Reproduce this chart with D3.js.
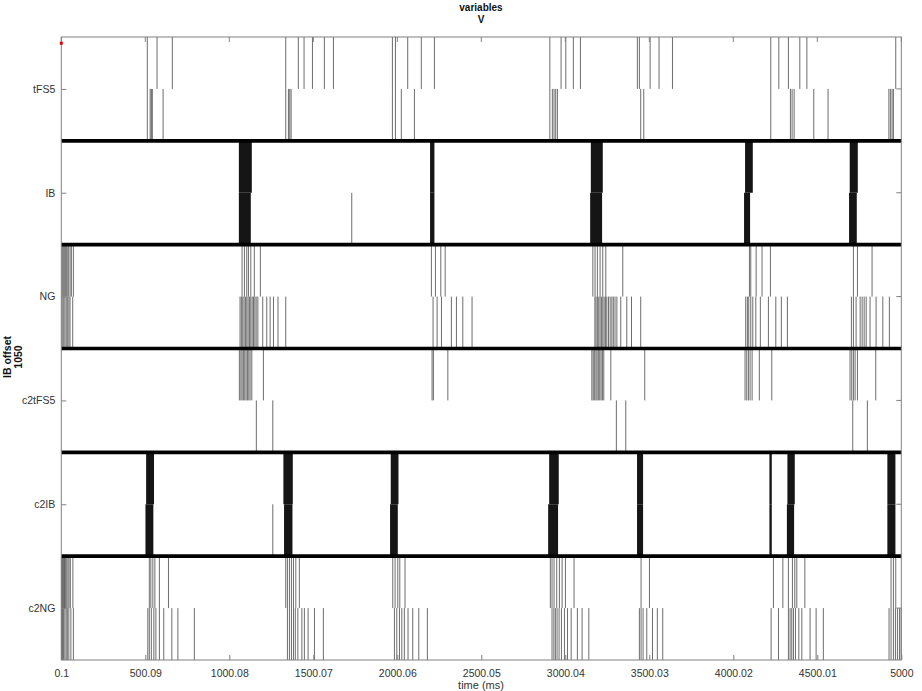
<!DOCTYPE html>
<html><head><meta charset="utf-8">
<script src="https://cdn.jsdelivr.net/npm/d3@7"></script>
<style>body{margin:0;background:#fff}svg{display:block}</style>
</head><body>
<svg id="c" width="922" height="691"></svg>
<script>
// ---------- data (times in ms) ----------
const rowLabels = ["tFS5","IB","NG","c2tFS5","c2IB","c2NG"];
const xTickValues = [0.1,500.09,1000.08,1500.07,2000.06,2500.05,3000.04,3500.03,4000.02,4500.01,5000];
const xTickLabels = ["0.1","500.09","1000.08","1500.07","2000.06","2500.05","3000.04","3500.03","4000.02","4500.01","5000"];

const tFS5Upper = [512,570,661,1336,1411,1445,1495,1566,1620,1971,1989,2062,2143,2221,2908,2975,3003,3048,3090,3429,3441,3505,3558,3638,4223,4271,4328,4396,4438,4967];
const tFS5Lower = [512,529,536,542,606,1336,1352,1360,1368,1971,1989,2024,2102,2908,2923,2933,2943,2953,3449,3467,4223,4340,4350,4362,4479,4564,4926,4935,4945,4953];

const IBUpperBursts = [[1057,1134],[2195,2221],[3152,3223],[4070,4116],[4693,4741]];
const IBLowerBursts = [[1057,1128],[2195,2221],[3148,3219],[4064,4100],[4689,4735]];
const IBLower = [1729];

const NGUpper = [5,11,17,23,29,35,42,52,60,72,1076,1090,1104,1114,1128,1149,1185,2203,2227,2259,2285,3164,3177,3191,3207,3223,3241,3342,4096,4104,4136,4171,4221,4715,4739,4826];
const NGLower = [5,12,21,29,36,45,52,68,1064,1072,1080,1088,1096,1104,1112,1120,1128,1136,1144,1152,1160,1170,1199,1223,1243,1263,1290,1336,2213,2237,2263,2322,2352,2390,2445,3176,3183,3191,3199,3207,3215,3223,3231,3239,3247,3257,3267,3277,3286,3296,3307,3330,3366,3394,3449,4074,4084,4092,4104,4116,4134,4161,4209,4253,4286,4322,4703,4715,4731,4755,4767,4779,4791,4814,4850,4890,4929];

const c2tFS5Upper = [1060,1069,1076,1084,1092,1100,1108,1116,1124,1134,1203,2207,2215,2301,3158,3166,3173,3182,3189,3197,3205,3213,3221,3229,3271,3473,4070,4080,4090,4100,4112,4155,4229,4695,4705,4715,4725,4739,4848];
const c2tFS5Lower = [1161,1259,3304,3360,4711,4798];

const c2IBUpperBursts = [[505,552],[1322,1378],[1961,2007],[2904,2961],[3427,3463],[4215,4229],[4322,4366],[4917,4965]];
const c2IBLowerBursts = [[501,548],[1326,1376],[1957,2003],[2898,2957],[3427,3463],[4215,4229],[4319,4362],[4917,4965]];
const c2IBLower = [1259];

const c2NGUpper = [1,7,13,19,24,30,39,46,54,69,524,533,545,557,584,638,1336,1346,1358,1370,1382,1396,1417,1973,1987,2003,2015,2046,2911,2921,2933,2949,2965,2981,3001,3052,3451,3501,4239,4295,4328,4352,4366,4378,4426,4939,4953,4967];
const c2NGLower = [1,7,13,21,29,36,45,57,72,515,524,536,551,563,584,610,658,694,792,1346,1358,1370,1382,1393,1408,1432,1447,1469,1507,1560,1983,1997,2013,2027,2042,2064,2092,2128,2179,2921,2932,2941,2951,2963,2977,2995,3013,3035,3072,3100,3140,3441,3451,3463,3485,3519,3548,3580,4225,4269,4328,4338,4348,4358,4370,4390,4408,4457,4493,4536,4927,4939,4953,4965,4977,4989,4999];

const redMarker = [{t:0.1, y:0.06}];

// ---------- assemble ----------
const spikeSets = [
  {row:0, half:0, times:tFS5Upper},{row:0, half:1, times:tFS5Lower},
  {row:1, half:1, times:IBLower},
  {row:2, half:0, times:NGUpper},{row:2, half:1, times:NGLower},
  {row:3, half:0, times:c2tFS5Upper},{row:3, half:1, times:c2tFS5Lower},
  {row:4, half:1, times:c2IBLower},
  {row:5, half:0, times:c2NGUpper},{row:5, half:1, times:c2NGLower}
];
const burstSets = [
  {row:1, half:0, b:IBUpperBursts},{row:1, half:1, b:IBLowerBursts},
  {row:4, half:0, b:c2IBUpperBursts},{row:4, half:1, b:c2IBLowerBursts}
];

const svg = d3.select("#c");
const font = "'Liberation Sans', Arial, Helvetica, sans-serif";
const L=61.3, R=901.3, T=37, B=660;
const x = d3.scaleLinear().domain([0.1,5000]).range([L,R]);
const y = d3.scaleLinear().domain([0,rowLabels.length]).range([T,B]);

// spikes
const spikes = [];
spikeSets.forEach(s=>s.times.forEach(t=>spikes.push({t,row:s.row,half:s.half})));
svg.append("g").selectAll("line").data(spikes).join("line")
  .attr("x1",d=>x(d.t)).attr("x2",d=>x(d.t))
  .attr("y1",d=>y(d.row+d.half*0.5)).attr("y2",d=>y(d.row+d.half*0.5+0.5))
  .attr("stroke","#1e1e1e").attr("stroke-width",0.65);

// bursts
const bursts = [];
burstSets.forEach(s=>s.b.forEach(b=>bursts.push({s:b[0],e:b[1],row:s.row,half:s.half})));
svg.append("g").selectAll("rect").data(bursts).join("rect")
  .attr("x",d=>x(d.s)).attr("width",d=>Math.max(1.5,x(d.e)-x(d.s)))
  .attr("y",d=>y(d.row+d.half*0.5)).attr("height",d=>y(0.5)-y(0))
  .attr("fill","#151515");

// thick separators
svg.append("g").selectAll("line").data(d3.range(1,rowLabels.length)).join("line")
  .attr("x1",L).attr("x2",R).attr("y1",d=>y(d)).attr("y2",d=>y(d))
  .attr("stroke","#000").attr("stroke-width",3.6);

// box
svg.append("rect").attr("x",L).attr("y",T).attr("width",R-L).attr("height",B-T)
  .attr("fill","none").attr("stroke","#808080").attr("stroke-width",1);

// x axis bottom
const xb = svg.append("g").attr("transform",`translate(0,${B})`)
  .call(d3.axisBottom(x).tickValues(xTickValues).tickFormat((d,i)=>xTickLabels[i]).tickSizeInner(-5).tickSizeOuter(0).tickPadding(10));
xb.select(".domain").remove();
xb.selectAll("line").attr("stroke","#808080");
xb.selectAll("text").attr("font-family",font).attr("font-size",10.5).attr("fill","#333");
// top ticks
svg.append("g").selectAll("line").data(xTickValues).join("line")
  .attr("x1",d=>x(d)).attr("x2",d=>x(d)).attr("y1",T).attr("y2",T+5).attr("stroke","#808080");

// y axis
const yl = svg.append("g").attr("transform",`translate(${L},0)`)
  .call(d3.axisLeft(y).tickValues(rowLabels.map((_,i)=>i+0.5)).tickFormat((d,i)=>rowLabels[i]).tickSizeInner(-5).tickSizeOuter(0).tickPadding(6));
yl.select(".domain").remove();
yl.selectAll("line").attr("stroke","#808080");
yl.selectAll("text").attr("font-family",font).attr("font-size",10.5).attr("fill","#333");
svg.append("g").selectAll("line").data(rowLabels.map((_,i)=>i+0.5)).join("line")
  .attr("x1",R-5).attr("x2",R).attr("y1",d=>y(d)).attr("y2",d=>y(d)).attr("stroke","#808080");

// red marker
svg.append("g").selectAll("rect").data(redMarker).join("rect")
  .attr("x",d=>x(d.t)-1.5).attr("y",d=>y(d.y)-1.5).attr("width",3).attr("height",3).attr("fill","#e00000");

// title
svg.append("text").attr("x",481).attr("y",11).attr("text-anchor","middle").attr("font-family",font)
  .attr("font-size",10).attr("font-weight","bold").attr("fill","#111").text("variables");
svg.append("text").attr("x",481).attr("y",23).attr("text-anchor","middle").attr("font-family",font)
  .attr("font-size",10).attr("font-weight","bold").attr("fill","#111").text("V");

// x label
svg.append("text").attr("x",481).attr("y",689).attr("text-anchor","middle").attr("font-family",font)
  .attr("font-size",11).attr("fill","#333").text("time (ms)");

// y label
const yt = svg.append("text").attr("transform","translate(11,357) rotate(-90)").attr("text-anchor","middle")
  .attr("font-family",font).attr("font-size",10.5).attr("font-weight","bold").attr("fill","#111");
yt.append("tspan").attr("x",0).attr("y",0).text("IB offset");
yt.append("tspan").attr("x",0).attr("dy",11).text("1050");
</script>
</body></html>
